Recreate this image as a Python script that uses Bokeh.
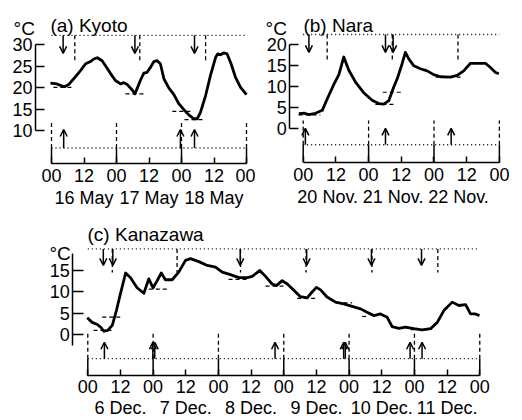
from bokeh.plotting import figure
from bokeh.layouts import column, row
from bokeh.models import Range1d, LinearAxis, FixedTicker, ColumnDataSource, Arrow, OpenHead
from bokeh.embed import file_html
from bokeh.resources import INLINE
from bokeh.core.properties import value

FONT = "Liberation Sans"

# ---------------- data (hours from 00 of first day, temperature in degC) ----------------
kyoto_h = [-0.4, 2, 4, 5, 6.4, 8.2, 10.7, 12.6, 14.4, 15.6, 16.9, 18.7, 20.3, 21.8, 23.6, 25.5,
           26.7, 27.9, 29.8, 30.8, 31.6, 32.8, 34.1, 35.3, 36.6, 37.8, 39.0, 40.2, 41.5, 43.3,
           45.2, 47.0, 48.9, 50.7, 52.5, 53.8, 55.0, 56.9, 58.7, 60.6, 61.4, 62.4, 63.6, 64.8,
           66.3, 67.9, 69.8, 72.0]
kyoto_t = [21.1, 20.9, 20.4, 20.3, 20.8, 22.1, 24.0, 25.6, 26.1, 26.7, 27.0, 26.3, 24.8, 23.3,
           21.7, 20.9, 21.2, 20.8, 19.5, 18.6, 19.8, 21.7, 23.4, 23.6, 24.8, 26.1, 26.3, 25.6,
           22.1, 20.0, 18.4, 16.3, 14.9, 13.7, 12.8, 12.8, 14.3, 18.2, 22.9, 27.1, 27.9, 27.7,
           28.1, 27.9, 25.6, 22.5, 20.1, 18.4]
kyoto_down = [4.3, 30.8, 52.8]
kyoto_up = [4.5, 47.6, 52.8]
kyoto_topdash = [8.6, 32.6, 56.9]
kyoto_low_h0 = [0.7, 27.3, 44.6, 49.1]
kyoto_low_h1 = [8.1, 34.7, 51.9, 56.9]
kyoto_low_t = [20.1, 18.6, 14.5, 12.6]
kyoto_dates = ["16 May", "17 May", "18 May"]
kyoto_date_pos = [12, 36, 60]
kyoto_yticks = [10, 15, 20, 25, 30]

nara_h = [-1.6, 0.5, 2.1, 4.5, 7.0, 8.8, 11.2, 13.1, 14.9, 16.7, 19.2, 22.2, 25.3, 27.7, 29.6,
          31.4, 33.2, 34.5, 36.3, 37.5, 38.8, 40.6, 43.0, 45.5, 47.9, 50.4, 54.0, 56.5, 58.9,
          61.4, 63.9, 66.9, 68.7, 70.6, 71.8]
nara_t = [3.6, 3.7, 3.4, 3.7, 4.4, 7.1, 10.5, 12.9, 17.1, 14.0, 11.1, 8.6, 6.8, 6.0, 5.9, 6.7,
          9.9, 11.9, 15.5, 18.2, 16.6, 15.0, 14.3, 13.8, 12.9, 12.4, 12.3, 12.7, 13.8, 15.6,
          15.6, 15.6, 14.6, 13.4, 13.1]
nara_down = [2.1, 30.2, 33.0]
nara_up = [0.8, 30.2, 54.3]
nara_topdash = [8.8, 32.7, 56.8]
nara_low_h0 = [-1.7, 26.5, 29.2, 48.6]
nara_low_h1 = [6.3, 33.9, 36.9, 57.8]
nara_low_t = [3.3, 5.8, 8.7, 12.3]
nara_dates = ["20 Nov.", "21 Nov.", "22 Nov."]
nara_date_pos = [9, 33, 57]
nara_yticks = [0, 5, 10, 15, 20]

kan_h = [-0.2, 1.6, 3.5, 4.7, 5.9, 7.3, 9.0, 10.5, 12.0, 13.9, 15.7, 18.1, 20.6, 22.4, 24.0,
         25.5, 27.0, 28.5, 31.0, 33.4, 35.9, 37.7, 40.8, 43.9, 46.9, 49.4, 52.4, 55.5, 58.6,
         60.4, 63.2, 65.3, 67.7, 69.3, 71.4, 73.3, 75.7, 78.1, 80.6, 82.4, 84.0, 85.5, 87.9,
         91.0, 94.0, 97.1, 100.2, 102.6, 105.1, 107.5, 110.0, 111.8, 114.3, 116.7, 119.8,
         122.8, 125.9, 128.4, 130.8, 133.9, 136.3, 138.8, 140.6, 142.4, 143.9]
kan_t = [3.9, 2.8, 2.3, 1.7, 0.7, 0.9, 2.1, 5.6, 9.6, 14.5, 13.4, 11.0, 9.7, 13.1, 11.0, 12.7,
         14.5, 12.9, 12.9, 14.7, 17.5, 17.9, 17.2, 16.3, 15.9, 14.7, 14.1, 13.4, 13.4, 13.7,
         15.1, 13.7, 11.9, 11.5, 12.7, 11.9, 10.4, 8.9, 8.6, 10.0, 11.1, 10.5, 8.8, 7.6, 7.2,
         6.6, 6.0, 5.2, 4.4, 4.8, 4.0, 1.8, 1.4, 1.7, 1.3, 1.0, 1.3, 2.8, 5.6, 7.6, 6.8, 7.0,
         4.8, 4.8, 4.4]
kan_down = [5.7, 9.2, 56.0, 80.4, 104.2, 122.6]
kan_up = [6.1, 23.9, 24.6, 68.8, 94.0, 94.6, 118.4, 122.8]
kan_topdash = [9.0, 32.8, 56.1, 80.2, 104.4, 128.6]
kan_low_h0 = [2.1, 5.3, 22.4, 51.7, 65.3, 76.9, 91.4, 100.8, 114.6, 118.6]
kan_low_h1 = [9.5, 12.6, 29.2, 58.6, 72.0, 84.3, 97.1, 103.2, 119.2, 126.5]
kan_low_t = [0.9, 4.05, 10.7, 13.0, 11.4, 8.5, 7.4, 4.2, 1.5, 1.1]
kan_dates = ["6 Dec.", "7 Dec.", "8 Dec.", "9 Dec.", "10 Dec.", "11 Dec."]
kan_date_pos = [12, 36, 60, 84, 108, 132]
kan_yticks = [0, 5, 10, 15]


def axis_style(**kw):
    base = dict(major_label_text_font=FONT, major_label_text_font_size="18px",
                major_label_text_color="black", axis_line_width=1.5,
                major_tick_line_width=1.5, axis_line_color="black",
                major_tick_line_color="black", major_tick_out=0)
    base.update(kw)
    return base


def panel(title, hours, temps, ndays, w, h, xr, yr, x_axis_at, y_axis_at,
          yticks, ybounds, ytick_in, dates, date_pos,
          down_h, up_h, topdash_h, low_h0, low_h1, low_t, lv, title_xy, degc_xy,
          hour_standoff, date_standoff):
    p = figure(width=w, height=h, x_range=Range1d(*xr), y_range=Range1d(*yr),
               x_axis_location=None, y_axis_location=None, toolbar_location=None,
               output_backend="svg", min_border=0, outline_line_color=None,
               background_fill_color="white", border_fill_color="white")
    p.grid.grid_line_color = None

    # temperature axis
    ya = LinearAxis(ticker=FixedTicker(ticks=yticks, minor_ticks=[]), bounds=ybounds,
                    fixed_location=y_axis_at,
                    **axis_style(major_tick_in=ytick_in, major_label_standoff=3))
    p.add_layout(ya, "left")

    # time axis
    tmax = 24 * ndays
    xt = list(range(0, tmax + 1, 12))
    xa = LinearAxis(ticker=FixedTicker(ticks=xt, minor_ticks=[]), bounds=(0, tmax),
                    fixed_location=x_axis_at,
                    major_label_overrides={v: ("00" if v % 24 == 0 else "12") for v in xt},
                    **axis_style(major_tick_in=6, major_label_standoff=hour_standoff))
    p.add_layout(xa, "below")
    da = LinearAxis(ticker=FixedTicker(ticks=date_pos, minor_ticks=[]),
                    fixed_location=x_axis_at,
                    major_label_overrides={pos: d for pos, d in zip(date_pos, dates)},
                    **axis_style(axis_line_color=None, major_tick_line_color=None,
                                 major_tick_in=0, major_label_standoff=date_standoff))
    p.add_layout(da, "below")

    days = list(range(0, tmax + 1, 24))
    # dotted guide lines
    p.segment(x0=[0, 0], y0=[lv["top"], lv["bot"]], x1=[tmax, tmax], y1=[lv["top"], lv["bot"]],
              line_dash="1 3", line_width=1.3, color="black")
    # top dashed verticals
    n = len(topdash_h)
    p.segment(x0=topdash_h, y0=[lv["top"]] * n, x1=topdash_h, y1=[lv["topdash"]] * n,
              line_dash="4 3", line_width=1.3, color="black")
    # bottom dashed verticals at day boundaries
    nd = len(days)
    p.segment(x0=days, y0=[lv["bot"]] * nd, x1=days, y1=[lv["botdash"]] * nd,
              line_dash="4 3", line_width=1.3, color="black")
    # long 00 ticks
    p.segment(x0=days, y0=[x_axis_at] * nd, x1=days, y1=[lv["bot"]] * nd,
              line_width=1.5, color="black")
    # low-value markers
    p.segment(x0=low_h0, y0=low_t, x1=low_h1, y1=low_t, line_dash="4 3", line_width=1.2,
              color="black")
    # temperature curve
    p.line(x=hours, y=temps, line_width=2.8, color="black", line_join="round")

    # arrows
    dsrc = ColumnDataSource(dict(x=down_h, y0=[lv["top"]] * len(down_h),
                                 y1=[lv["downtip"]] * len(down_h)))
    p.add_layout(Arrow(end=OpenHead(size=7, line_width=1.5), source=dsrc,
                       x_start="x", y_start="y0", x_end="x", y_end="y1", line_width=1.5))
    usrc = ColumnDataSource(dict(x=up_h, y0=[lv["bot"]] * len(up_h),
                                 y1=[lv["uptip"]] * len(up_h)))
    p.add_layout(Arrow(end=OpenHead(size=7, line_width=1.5), source=usrc,
                       x_start="x", y_start="y0", x_end="x", y_end="y1", line_width=1.5))

    p.text(x=[title_xy[0], degc_xy[0]], y=[title_xy[1], degc_xy[1]], text=[title, "°C"],
           text_font=value(FONT), text_font_size="19px", text_baseline="alphabetic",
           text_align="left", text_color="black")
    return p


pa = panel("(a) Kyoto", kyoto_h, kyoto_t, 3, 255, 210, (-18.83, 75.32), (-8.53, 40.3),
           2.4, -5.91, kyoto_yticks, (10, 30), 9, kyoto_dates, kyoto_date_pos,
           kyoto_down, kyoto_up, kyoto_topdash, kyoto_low_h0, kyoto_low_h1, kyoto_low_t,
           dict(top=32.2, topdash=26.1, downtip=28.0, bot=6.0, botdash=12.0, uptip=10.3),
           (-0.4, 34.5), (-14.0, 33.7), 6, 25)
pb = panel("(b) Nara", nara_h, nara_t, 3, 267, 210, (-17.5, 80.48), (-19.45, 30.55),
           -7.95, -4.92, nara_yticks, (0, 20), 9, nara_dates, nara_date_pos,
           nara_down, nara_up, nara_topdash, nara_low_h0, nara_low_h1, nara_low_t,
           dict(top=22.45, topdash=16.4, downtip=18.2, bot=-3.8, botdash=2.0, uptip=0.1),
           (0.1, 24.6), (-13.8, 23.9), 6, 25)
pc = panel("(c) Kanazawa", kan_h, kan_t, 6, 522, 210, (-32.07, 159.7), (-20.45, 29.31),
           -9.79, -5.51, kan_yticks, (-2.7, 19.1), 11, kan_dates, kan_date_pos,
           kan_down, kan_up, kan_topdash, kan_low_h0, kan_low_h1, kan_low_t,
           dict(top=20.2, topdash=14.6, downtip=16.3, bot=-5.8, botdash=0.2, uptip=-1.9),
           (-0.1, 23.55), (-14.1, 19.2), 4, 22)

layout = column(row(pa, pb, spacing=0), pc, spacing=0)
open("out.html", "w").write(file_html(layout, INLINE))
